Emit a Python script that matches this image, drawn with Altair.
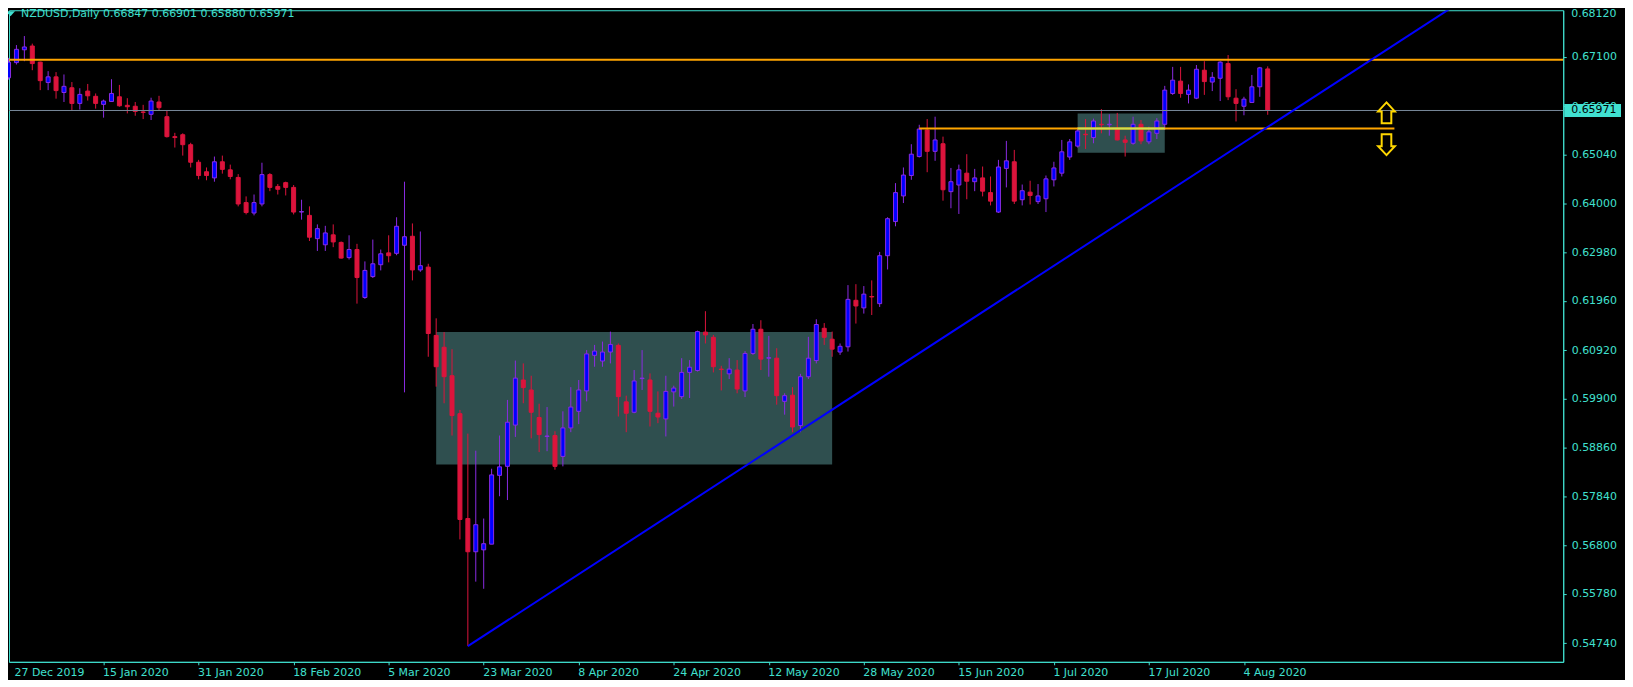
import altair as alt
import pandas as pd

# ---------------- data ----------------
opens = [
    0.6666, 0.6698, 0.6725, 0.6733, 0.6699, 0.6656, 0.6668, 0.6635, 0.6645, 0.6612,
    0.6638, 0.6627, 0.6610, 0.6616, 0.6626, 0.6608, 0.6606, 0.6594, 0.6589, 0.6615,
    0.6584, 0.6542, 0.6546, 0.6525, 0.6488, 0.6468, 0.6455, 0.6489, 0.6472, 0.6456,
    0.6403, 0.6381, 0.6400, 0.6462, 0.6437, 0.6445, 0.6435, 0.6383, 0.6376, 0.6327,
    0.6314, 0.6335, 0.6319, 0.6287, 0.6304, 0.6203, 0.6247, 0.6272, 0.6297, 0.6296,
    0.6313, 0.6332, 0.6261, 0.6267, 0.6123, 0.6098, 0.6038, 0.5958, 0.5737, 0.5667,
    0.5671, 0.5683, 0.5828, 0.5847, 0.5934, 0.6029, 0.6008, 0.5950, 0.5910, 0.5912,
    0.5868, 0.5928, 0.5963, 0.6006, 0.6081, 0.6069, 0.6088, 0.6102, 0.5983, 0.5961,
    0.6032, 0.6029, 0.5959, 0.5947, 0.6004, 0.5994, 0.6045, 0.6049, 0.6130, 0.6119,
    0.6052, 0.6042, 0.6050, 0.6006, 0.6085, 0.6136, 0.6075, 0.6075, 0.5984, 0.5997,
    0.5933, 0.6036, 0.6070, 0.6138, 0.6115, 0.6088, 0.6099, 0.6197, 0.6181, 0.6205,
    0.6190, 0.6291, 0.6363, 0.6417, 0.6460, 0.6500, 0.6556, 0.6511, 0.6527, 0.6426,
    0.6440, 0.6465, 0.6447, 0.6455, 0.6424, 0.6383, 0.6475, 0.6489, 0.6409, 0.6425,
    0.6405, 0.6411, 0.6451, 0.6465, 0.6499, 0.6522, 0.6547, 0.6540, 0.6568, 0.6567,
    0.6558, 0.6535, 0.6528, 0.6568, 0.6531, 0.6549, 0.6568, 0.6633, 0.6659, 0.6631,
    0.6623, 0.6682, 0.6657, 0.6665, 0.6696, 0.6623, 0.6606, 0.6614, 0.6647, 0.66847,
]
highs = [
    0.6708, 0.6735, 0.6754, 0.6738, 0.6700, 0.6680, 0.6678, 0.6673, 0.6657, 0.6644,
    0.6653, 0.6633, 0.6620, 0.6663, 0.6651, 0.6623, 0.6615, 0.6609, 0.6624, 0.6628,
    0.6596, 0.6550, 0.6549, 0.6529, 0.6493, 0.6477, 0.6500, 0.6502, 0.6483, 0.6463,
    0.6416, 0.6420, 0.6487, 0.6465, 0.6442, 0.6447, 0.6440, 0.6409, 0.6395, 0.6357,
    0.6354, 0.6357, 0.6321, 0.6334, 0.6316, 0.6279, 0.6325, 0.6304, 0.6334, 0.6372,
    0.6447, 0.6359, 0.6342, 0.6274, 0.6159, 0.6130, 0.6094, 0.5966, 0.5916, 0.5880,
    0.5737, 0.5842, 0.5912, 0.5987, 0.6070, 0.6064, 0.6038, 0.5979, 0.5972, 0.5921,
    0.5963, 0.6014, 0.6029, 0.6092, 0.6103, 0.6110, 0.6131, 0.6106, 0.5996, 0.6050,
    0.6092, 0.6043, 0.6005, 0.6038, 0.6017, 0.6075, 0.6071, 0.6133, 0.6174, 0.6124,
    0.6059, 0.6075, 0.6071, 0.6090, 0.6147, 0.6155, 0.6122, 0.6096, 0.6001, 0.6014,
    0.6042, 0.6120, 0.6157, 0.6149, 0.6131, 0.6106, 0.6229, 0.6231, 0.6227, 0.6239,
    0.6299, 0.6372, 0.6444, 0.6477, 0.6526, 0.6567, 0.6579, 0.6584, 0.6542, 0.6476,
    0.6483, 0.6505, 0.6474, 0.6479, 0.6458, 0.6493, 0.6533, 0.6514, 0.6441, 0.6449,
    0.6442, 0.6460, 0.6489, 0.6535, 0.6537, 0.6561, 0.6579, 0.6580, 0.6600, 0.6589,
    0.6592, 0.6544, 0.6584, 0.6577, 0.6563, 0.6581, 0.6649, 0.6689, 0.6689, 0.6652,
    0.6693, 0.6701, 0.6678, 0.6701, 0.6714, 0.6642, 0.6626, 0.6672, 0.6689, 0.66901,
]
lows = [
    0.6662, 0.6694, 0.6701, 0.6682, 0.6640, 0.6640, 0.6622, 0.6615, 0.6596, 0.6599,
    0.6618, 0.6601, 0.6582, 0.6615, 0.6605, 0.6591, 0.6586, 0.6579, 0.6577, 0.6597,
    0.6540, 0.6519, 0.6502, 0.6477, 0.6452, 0.6450, 0.6447, 0.6464, 0.6452, 0.6395,
    0.6378, 0.6376, 0.6395, 0.6427, 0.6420, 0.6418, 0.6378, 0.6367, 0.6322, 0.6301,
    0.6301, 0.6309, 0.6285, 0.6283, 0.6190, 0.6200, 0.6244, 0.6260, 0.6277, 0.6292,
    0.6003, 0.6239, 0.6257, 0.6078, 0.6015, 0.5980, 0.5912, 0.5693, 0.5468, 0.5604,
    0.5589, 0.5683, 0.5784, 0.5776, 0.5909, 0.5980, 0.5906, 0.5877, 0.5879, 0.5840,
    0.5847, 0.5919, 0.5936, 0.5984, 0.6057, 0.6057, 0.6064, 0.5952, 0.5919, 0.5959,
    0.6008, 0.5931, 0.5938, 0.5910, 0.5973, 0.5989, 0.5991, 0.6047, 0.6106, 0.6045,
    0.6007, 0.6031, 0.6001, 0.5993, 0.6082, 0.6050, 0.6036, 0.5977, 0.5956, 0.5919,
    0.5919, 0.6031, 0.6064, 0.6103, 0.6078, 0.6082, 0.6089, 0.6148, 0.6169, 0.6166,
    0.6183, 0.6262, 0.6353, 0.6402, 0.6451, 0.6498, 0.6467, 0.6491, 0.6407, 0.6391,
    0.6379, 0.6410, 0.6427, 0.6416, 0.6397, 0.6381, 0.6435, 0.6400, 0.6397, 0.6399,
    0.6400, 0.6383, 0.6437, 0.6458, 0.6493, 0.6519, 0.6516, 0.6528, 0.6549, 0.6544,
    0.6534, 0.6500, 0.6525, 0.6526, 0.6526, 0.6537, 0.6556, 0.6630, 0.6624, 0.6612,
    0.6621, 0.6630, 0.6638, 0.6617, 0.6619, 0.6574, 0.6587, 0.6614, 0.6626, 0.65880,
]
closes = [
    0.6699, 0.6726, 0.6731, 0.6696, 0.6660, 0.6668, 0.6639, 0.6648, 0.6612, 0.6631,
    0.6628, 0.6612, 0.6617, 0.6633, 0.6607, 0.6605, 0.6595, 0.6593, 0.6617, 0.6603,
    0.6542, 0.6540, 0.6525, 0.6488, 0.6460, 0.6460, 0.6489, 0.6473, 0.6458, 0.6400,
    0.6382, 0.6403, 0.6462, 0.6435, 0.6431, 0.6435, 0.6383, 0.6384, 0.6330, 0.6348,
    0.6339, 0.6320, 0.6286, 0.6304, 0.6245, 0.6260, 0.6274, 0.6295, 0.6291, 0.6353,
    0.6331, 0.6261, 0.6270, 0.6127, 0.6057, 0.6036, 0.5954, 0.5735, 0.5667, 0.5724,
    0.5684, 0.5829, 0.5846, 0.5940, 0.6033, 0.6013, 0.5961, 0.5914, 0.5911, 0.5847,
    0.5928, 0.5972, 0.6008, 0.6084, 0.6090, 0.6088, 0.6104, 0.5994, 0.5959, 0.6027,
    0.6033, 0.5963, 0.5951, 0.6005, 0.6012, 0.6045, 0.6056, 0.6131, 0.6124, 0.6057,
    0.6051, 0.6052, 0.6010, 0.6085, 0.6136, 0.6073, 0.6076, 0.5996, 0.5996, 0.5930,
    0.6036, 0.6075, 0.6146, 0.6119, 0.6094, 0.6100, 0.6199, 0.6185, 0.6210, 0.6204,
    0.6291, 0.6369, 0.6424, 0.6461, 0.6505, 0.6558, 0.6511, 0.6535, 0.6430, 0.6447,
    0.6472, 0.6448, 0.6455, 0.6427, 0.6406, 0.6478, 0.6491, 0.6406, 0.6428, 0.6418,
    0.6417, 0.6453, 0.6476, 0.6510, 0.6531, 0.6554, 0.6546, 0.6575, 0.6567, 0.6568,
    0.6535, 0.6530, 0.6568, 0.6533, 0.6552, 0.6575, 0.6640, 0.6661, 0.6633, 0.6640,
    0.6684, 0.6658, 0.6667, 0.6699, 0.6626, 0.6612, 0.6621, 0.6647, 0.6687, 0.65971,
]

date_labels = ["27 Dec 2019", "15 Jan 2020", "31 Jan 2020", "18 Feb 2020", "5 Mar 2020",
               "23 Mar 2020", "8 Apr 2020", "24 Apr 2020", "12 May 2020", "28 May 2020",
               "15 Jun 2020", "1 Jul 2020", "17 Jul 2020", "4 Aug 2020"]
date_label_bars = [0, 12, 24, 36, 48, 60, 72, 84, 96, 108, 120, 132, 144, 156]
price_ticks = [0.68120, 0.67100, 0.66060, 0.65040, 0.64000, 0.62980, 0.61960,
               0.60920, 0.59900, 0.58860, 0.57840, 0.56800, 0.55780, 0.54740]

title_text = "NZDUSD,Daily  0.66847 0.66901 0.65880 0.65971"
bid_price = 0.65971
resistance_price = 0.6704
support_price = 0.6559
support_bars = [115, 175]
zone_x1 = [54, 135]
zone_x2 = [104, 146]
zone_lo = [0.5851, 0.6508]
zone_hi = [0.6130, 0.6591]
trend_bars = [58, 195.7]
trend_prices = [0.5468, 0.6960]
arrow_bar = 174
arrow_up_price = 0.6592
arrow_down_price = 0.6525

# ---------------- styling ----------------
W, H = 1560, 654
X0, X1 = 0.6875, 195.6875
Y0, Y1 = 0.5435, 0.68084
FONT = "DejaVu Sans"
TURQ = "#40E0D0"
UPC = "#0000FF"
UPE = "#8A2BE2"
DNC = "#DC143C"
ORANGE = "#FFA500"
XOR = "#D0E24F"
SLATE = "#2F4F4F"
GOLD = "#FFD700"

xs = alt.Scale(domain=[X0, X1], nice=False, zero=False)
ys = alt.Scale(domain=[Y0, Y1], nice=False, zero=False)

labels_js = "[" + ",".join("'%s'" % s for s in date_labels) + "]"
bars_js = "[" + ",".join(str(v) for v in date_label_bars) + "]"

xax = alt.Axis(
    values=date_label_bars, labelExpr=f"{labels_js}[indexof({bars_js}, datum.value)]",
    title=None, grid=False, orient="bottom", tickSize=3, tickColor=TURQ, domainColor=TURQ,
    labelColor=TURQ, labelFont=FONT, labelFontSize=11, labelAlign="left",
    labelBaseline="top", labelPadding=2, labelFlush=False, labelOverlap=False,
    labelOffset=-1,
)
yax = alt.Axis(
    values=price_ticks, format=".5f", title=None, grid=False, orient="right",
    tickSize=3, tickColor=TURQ, domainColor=TURQ, labelColor=TURQ, labelFont=FONT,
    labelFontSize=11, labelPadding=5, labelFlush=False, labelOverlap=False,
)


def X(f):
    return alt.X(f, type="quantitative", scale=xs, axis=xax)


def Y(f):
    return alt.Y(f, type="quantitative", scale=ys, axis=yax)


candles = pd.DataFrame({"i": list(range(len(opens))), "o": opens, "h": highs,
                        "l": lows, "c": closes})
zones = pd.DataFrame({"i": zone_x1, "i2": zone_x2, "p": zone_lo, "p2": zone_hi})
up_cond = "datum.c >= datum.o"

zone_layer = alt.Chart(zones).mark_rect(color=SLATE, opacity=1).encode(
    x=X("i"), x2="i2", y=Y("p"), y2="p2")

wicks = alt.Chart(candles).mark_rule(strokeWidth=1).encode(
    x=X("i"), y=Y("l"), y2="h",
    color=alt.condition(up_cond, alt.value(UPE), alt.value(DNC)))

bodies = alt.Chart(candles).mark_bar(size=4, strokeWidth=1, opacity=1).encode(
    x=X("i"), y=Y("o"), y2="c",
    fill=alt.condition(up_cond, alt.value(UPC), alt.value(DNC)),
    stroke=alt.condition(up_cond, alt.value(UPE), alt.value(DNC)))

res_line = alt.Chart(pd.DataFrame({"p": [resistance_price]})).mark_rule(
    color=ORANGE, strokeWidth=2).encode(y=Y("p"))

bid_line = alt.Chart(pd.DataFrame({"p": [bid_price]})).mark_rule(
    color="#778899", strokeWidth=1).encode(y=Y("p"))

sup_line = alt.Chart(pd.DataFrame({"i": [support_bars[0]], "i2": [support_bars[1]],
                                   "p": [support_price]})).mark_rule(
    color=ORANGE, strokeWidth=2).encode(x=X("i"), x2="i2", y=Y("p"))

xor_line = alt.Chart(pd.DataFrame({"i": [max(support_bars[0], zone_x1[1])],
                                   "i2": [zone_x2[1]], "p": [support_price]})).mark_rule(
    color=XOR, strokeWidth=2).encode(x=X("i"), x2="i2", y=Y("p"))

trend = alt.Chart(pd.DataFrame({"i": [trend_bars[0]], "i2": [trend_bars[1]],
                                "p": [trend_prices[0]], "p2": [trend_prices[1]]})).mark_rule(
    color="#0000FF", strokeWidth=2, clip=True).encode(x=X("i"), x2="i2", y=Y("p"), y2="p2")

UP_PATH = "M0,-1 L0.8,-0.14 L0.46,-0.14 L0.46,1 L-0.46,1 L-0.46,-0.14 L-0.8,-0.14 Z"
DOWN_PATH = "M0,1 L0.8,0.14 L0.46,0.14 L0.46,-1 L-0.46,-1 L-0.46,0.14 L-0.8,0.14 Z"

up_arrow = alt.Chart(pd.DataFrame({"i": [arrow_bar], "p": [arrow_up_price]})).mark_point(
    shape=UP_PATH, size=441, filled=False, stroke=GOLD, strokeWidth=2, opacity=1).encode(
    x=X("i"), y=Y("p"))
down_arrow = alt.Chart(pd.DataFrame({"i": [arrow_bar], "p": [arrow_down_price]})).mark_point(
    shape=DOWN_PATH, size=441, filled=False, stroke=GOLD, strokeWidth=2, opacity=1).encode(
    x=X("i"), y=Y("p"))

BOX_PATH = "M-1,-0.23 L1,-0.23 L1,0.23 L-1,0.23 Z"
bid_df = pd.DataFrame({"p": [bid_price], "t": ["%.5f" % bid_price]})
price_box = alt.Chart(bid_df).mark_point(
    shape=BOX_PATH, size=3249, filled=True, fill=TURQ, strokeWidth=0, opacity=1).encode(
    x=alt.value(W + 29.5), y=Y("p"))
price_text = alt.Chart(bid_df).mark_text(
    align="left", baseline="middle", font=FONT, fontSize=11, color="#000000").encode(
    x=alt.value(W + 8), y=Y("p"), text="t:N")

# edge labels that fall just outside the plotted range (drawn as text so they stay visible)
first_date = alt.Chart(pd.DataFrame({"i": [date_label_bars[0]], "t": [date_labels[0]]})).mark_text(
    align="left", baseline="top", font=FONT, fontSize=11, color=TURQ, dx=6).encode(
    x=X("i"), y=alt.value(H + 5), text="t:N")
top_price = alt.Chart(pd.DataFrame({"p": [price_ticks[0]], "t": ["%.5f" % price_ticks[0]]})).mark_text(
    align="left", baseline="middle", font=FONT, fontSize=11, color=TURQ, dy=5).encode(
    x=alt.value(W + 8), y=Y("p"), text="t:N")

title_df = pd.DataFrame({"t": [title_text]})
title_mark = alt.Chart(title_df).mark_text(
    align="left", baseline="middle", font=FONT, fontSize=11, color=TURQ).encode(
    x=alt.value(12), y=alt.value(4), text="t:N")
TRI_PATH = "M-1,-0.55 L1,-0.55 L0,0.55 Z"
tri = alt.Chart(title_df).mark_point(
    shape=TRI_PATH, size=81, filled=True, fill=TURQ, strokeWidth=0, opacity=1).encode(
    x=alt.value(1.5), y=alt.value(3.5))

chart = alt.layer(
    zone_layer, wicks, bodies, res_line, bid_line, sup_line, xor_line, trend,
    up_arrow, down_arrow, price_box, price_text, first_date, top_price, title_mark, tri,
).properties(
    width=W, height=H,
    padding={"left": 1, "top": 1, "right": 62, "bottom": 17},
    autosize=alt.AutoSizeParams(type="none"),
).configure(background="#000000", font=FONT).configure_view(
    stroke=TURQ, strokeWidth=1, fill="#000000")

chart.save("out.html", embed_options={"renderer": "svg", "actions": False})
